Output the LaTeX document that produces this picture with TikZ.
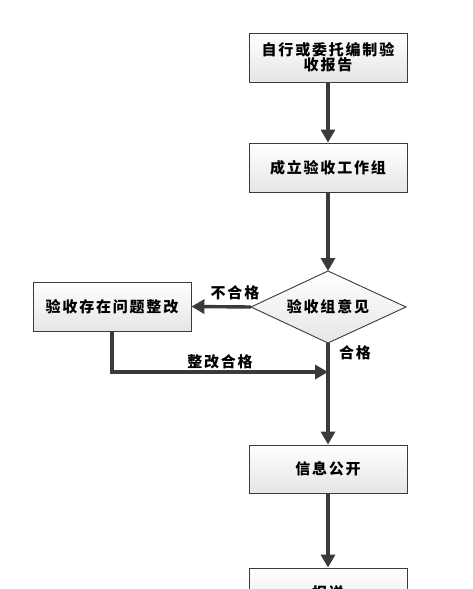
\documentclass[tikz,border=0pt]{standalone}
\usepackage{fontspec}
\newfontfamily\cjk[LetterSpace=12]{Noto Sans CJK SC}
\usetikzlibrary{arrows.meta}
\definecolor{edge}{HTML}{3a3a3a}
\begin{document}
\begin{tikzpicture}[x=1pt,y=-1pt,
  box/.style={draw=edge, line width=0.9pt, top color=white, bottom color=black!10,
    minimum width=158pt, minimum height=49pt, inner sep=2pt, align=center,
    font=\fontsize{15}{15}\cjk\bfseries},
  decfill/.style={draw=edge, line width=0.9pt, top color=white, bottom color=black!10},
  lbl/.style={font=\fontsize{15}{15}\cjk\bfseries, inner sep=0pt},
  flow/.style={draw=edge, line width=3.4pt, -{Triangle[length=13pt,width=14pt]}}]
\useasboundingbox (0,0) rectangle (472,589);
\clip (0,0) rectangle (472,589);
\node[box] (b1) at (328,57.5) {自行或委托编制验\\收报告};
\node[box] (b2) at (328,167.5) {成立验收工作组};
\coordinate (dN) at (328,271);
\coordinate (dE) at (406,307);
\coordinate (dS) at (328,343);
\coordinate (dW) at (251,307);
\path[decfill] (dN) -- (dE) -- (dS) -- (dW) -- cycle;
\node[lbl] (d) at (328,307) {验收组意见};
\node[box] (l) at (112,306.5) {验收存在问题整改};
\node[box, minimum height=48pt] (b3) at (328,469) {信息公开};
\node[box] (b4) at (328,592.5) {报送};
\coordinate (m) at (328,372);
\coordinate (c) at (112,372);
\draw[flow] (b1) -- (b2);
\draw[flow] (b2.south) -- (dN);
\draw[flow] (dW) -- (l.east);
\draw[flow] (dS) -- (b3.north);
\draw[flow] (l.south) -- (c) -- (m);
\draw[flow] (b3) -- (b4);
\node[lbl] (t1) at (235,293) {不合格};
\node[lbl] (t2) at (355,353) {合格};
\node[lbl] (t3) at (220,362) {整改合格};
\end{tikzpicture}
\end{document}
